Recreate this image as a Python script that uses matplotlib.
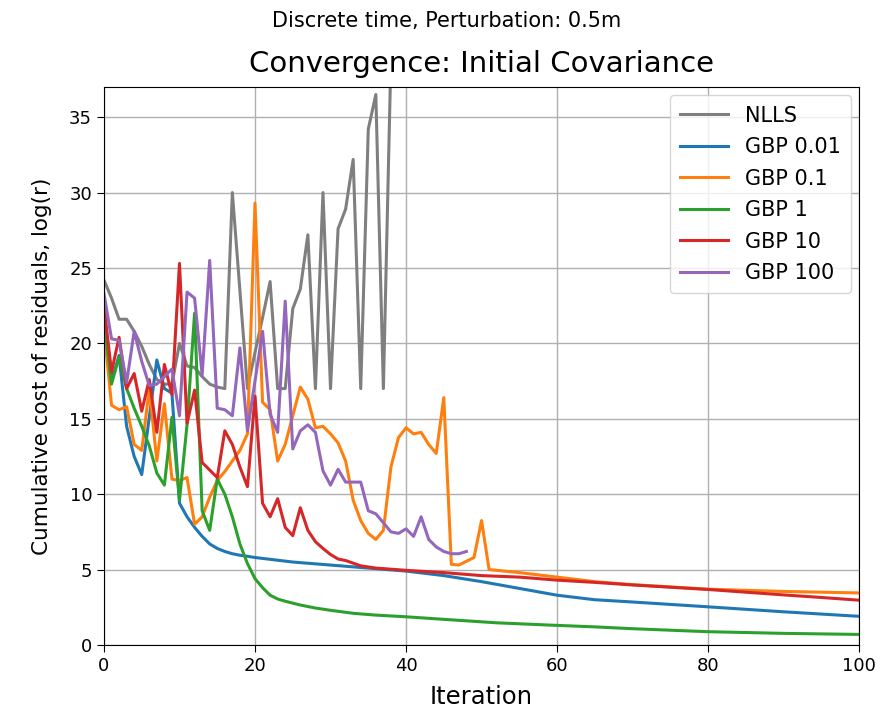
import matplotlib
matplotlib.use("Agg")
import matplotlib.pyplot as plt

# Cumulative residual cost per iteration for each solver configuration
nlls_it = list(range(0, 39))
nlls = [24.2, 23.0, 21.6, 21.6, 20.8, 19.8, 18.6, 17.6, 17.3, 17.3,
        20.0, 18.5, 18.4, 17.8, 17.3, 17.1, 17.0, 30.0, 23.5, 17.0,
        19.4, 21.7, 24.1, 17.0, 17.0, 22.3, 23.6, 27.2, 17.0, 30.0,
        17.0, 27.6, 28.9, 32.2, 17.0, 34.2, 36.5, 17.0, 39.0]

gbp001_it = list(range(0, 21)) + [25, 30, 35, 40, 45, 50, 55, 60, 65, 70, 80, 90, 100]
gbp001 = [22.0, 17.5, 19.2, 14.5, 12.5, 11.3, 15.1, 18.9, 17.0, 16.7,
          9.4, 8.5, 7.8, 7.2, 6.7, 6.4, 6.2, 6.05, 5.95, 5.88,
          5.8, 5.5, 5.3, 5.1, 4.9, 4.6, 4.2, 3.75, 3.3, 3.0, 2.85, 2.53, 2.2, 1.9]

gbp01_it = list(range(0, 52)) + [55, 60, 65, 70, 80, 90, 100]
gbp01 = [21.0, 15.9, 15.6, 15.8, 13.3, 12.9, 17.0, 12.2, 16.0, 11.0,
         10.9, 11.1, 8.0, 8.5, 9.8, 10.9, 11.5, 12.2, 12.9, 14.0,
         29.3, 16.1, 15.6, 12.2, 13.3, 15.2, 17.1, 16.3, 14.4, 14.5,
         14.0, 13.4, 12.2, 9.6, 8.25, 7.4, 7.0, 7.6, 11.8, 13.75,
         14.4, 14.0, 14.1, 13.3, 12.7, 16.4, 5.35, 5.3, 5.55, 5.8,
         8.25, 5.0, 4.8, 4.5, 4.2, 4.0, 3.7, 3.55, 3.45]

gbp1_it = list(range(0, 25)) + [26, 28, 30, 33, 36, 40, 45, 52, 59, 65, 70, 80, 90, 100]
gbp1 = [21.5, 17.3, 19.1, 17.0, 15.7, 14.5, 13.2, 11.4, 10.6, 15.1,
        9.6, 14.6, 22.0, 8.9, 7.6, 11.0, 10.0, 8.5, 6.7, 5.4,
        4.4, 3.8, 3.3, 3.05, 2.9, 2.65, 2.45, 2.3, 2.1, 1.98,
        1.87, 1.7, 1.47, 1.32, 1.2, 1.08, 0.88, 0.77, 0.7]

gbp10_it = list(range(0, 33)) + [34, 36, 40, 45, 50, 55, 60, 65, 70, 75, 80, 85, 90, 95, 100]
gbp10 = [22.5, 18.1, 20.4, 17.0, 18.0, 15.5, 17.6, 14.1, 18.6, 16.6,
         25.3, 14.7, 16.9, 12.1, 11.6, 11.1, 14.2, 13.3, 11.8, 10.5,
         16.5, 9.4, 8.5, 9.7, 7.8, 7.25, 9.1, 7.6, 6.85, 6.4,
         6.0, 5.7, 5.6, 5.25, 5.1, 4.95, 4.8, 4.6, 4.5, 4.3,
         4.15, 3.98, 3.83, 3.68, 3.5, 3.32, 3.15, 2.97]

gbp100_it = list(range(0, 49))
gbp100 = [23.3, 20.3, 20.2, 17.4, 20.8, 18.8, 17.2, 17.3, 17.8, 18.3,
          15.2, 23.4, 23.0, 17.9, 25.5, 15.7, 15.6, 15.2, 19.7, 14.2,
          17.5, 20.8, 15.3, 14.1, 22.8, 13.0, 14.2, 14.6, 14.1, 11.55,
          10.6, 11.65, 10.8, 10.8, 10.8, 8.9, 8.7, 8.1, 7.5, 7.4,
          7.7, 7.2, 8.5, 7.0, 6.5, 6.2, 6.05, 6.05, 6.2]

series = [
    ("NLLS", nlls_it, nlls, "tab:gray"),
    ("GBP 0.01", gbp001_it, gbp001, "tab:blue"),
    ("GBP 0.1", gbp01_it, gbp01, "tab:orange"),
    ("GBP 1", gbp1_it, gbp1, "tab:green"),
    ("GBP 10", gbp10_it, gbp10, "tab:red"),
    ("GBP 100", gbp100_it, gbp100, "tab:purple"),
]

fig = plt.figure(figsize=(8.94, 7.13), dpi=100)
ax = fig.add_axes([0.1163, 0.0954, 0.8447, 0.7826])

for label, xs, ys, color in series:
    ax.plot(xs, ys, color=color, lw=2.2, label=label)

ax.set_xlim(0, 100)
ax.set_ylim(0, 37)
ax.grid(True, color="#b0b0b0", lw=1.0)
ax.tick_params(labelsize=13, length=5)
ax.set_xlabel("Iteration", fontsize=17.5, labelpad=7)
ax.set_ylabel("Cumulative cost of residuals, log(r)", fontsize=15.5, labelpad=12)
ax.set_title("Convergence: Initial Covariance", fontsize=21, pad=11)
fig.suptitle("Discrete time, Perturbation: 0.5m", fontsize=15, y=0.985)
ax.legend(loc="upper right", fontsize=15, handlelength=2.3,
          labelspacing=0.55, borderpad=0.5, borderaxespad=0.4)

fig.savefig("out.png", dpi=100)
